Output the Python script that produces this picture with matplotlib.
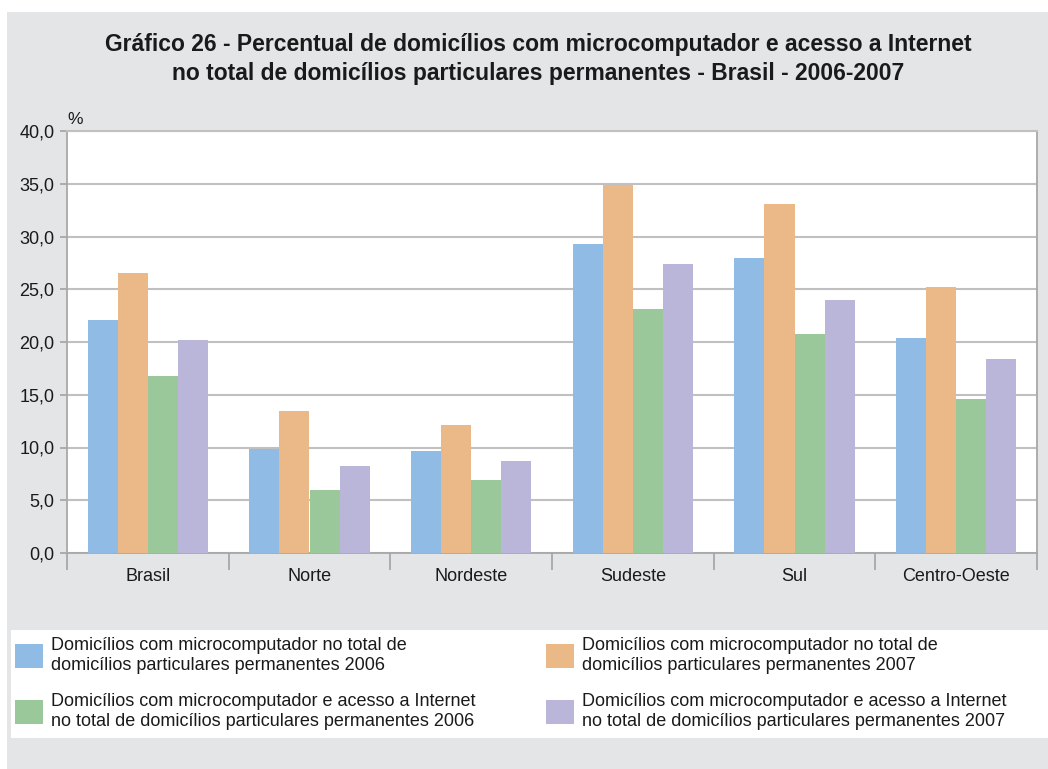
import numpy as np
import matplotlib.pyplot as plt
from matplotlib.patches import Rectangle
from matplotlib.ticker import FuncFormatter, FixedLocator

plt.rcParams['font.family'] = ['Liberation Sans', 'DejaVu Sans']

regioes = ['Brasil', 'Norte', 'Nordeste', 'Sudeste', 'Sul', 'Centro-Oeste']
micro_2006 = [22.1, 9.9, 9.7, 29.3, 28.0, 20.4]
micro_2007 = [26.5, 13.5, 12.1, 34.9, 33.1, 25.2]
internet_2006 = [16.8, 6.0, 6.9, 23.1, 20.8, 14.6]
internet_2007 = [20.2, 8.2, 8.7, 27.4, 24.0, 18.4]

rotulos = [
    'Domicílios com microcomputador no total de\ndomicílios particulares permanentes 2006',
    'Domicílios com microcomputador e acesso a Internet\nno total de domicílios particulares permanentes 2006',
    'Domicílios com microcomputador no total de\ndomicílios particulares permanentes 2007',
    'Domicílios com microcomputador e acesso a Internet\nno total de domicílios particulares permanentes 2007',
]
cores = ['#8fbbe4', '#ebb987', '#9ac89a', '#b9b6d9']
series = [micro_2006, micro_2007, internet_2006, internet_2007]

fig = plt.figure(figsize=(10.48, 7.69), dpi=100, facecolor='white')
# fundo cinza
fig.patches.append(Rectangle((7 / 1048, 0), 1, 1 - 12 / 769, transform=fig.transFigure,
                             facecolor='#e4e5e6', edgecolor='none', zorder=-10))
# caixa branca da legenda
fig.patches.append(Rectangle((11 / 1048, 1 - 738 / 769), 1, (738 - 630) / 769,
                             transform=fig.transFigure, facecolor='white',
                             edgecolor='none', zorder=-5))

ax = fig.add_axes([67 / 1048, 1 - 553 / 769, (1037 - 67) / 1048, (553 - 131) / 769])
ax.set_facecolor('white')

x = np.arange(len(regioes))
w = 0.186
barras = []
for i, (vals, cor) in enumerate(zip(series, cores)):
    b = ax.bar(x + (i - 1.5) * w, vals, w, color=cor, zorder=3)
    barras.append(b)

ax.set_xlim(-0.5, len(regioes) - 0.5)
ax.set_ylim(0, 40)
ax.set_yticks(np.arange(0, 41, 5))
ax.yaxis.set_major_formatter(FuncFormatter(lambda v, p: f'{v:.1f}'.replace('.', ',')))
ax.grid(axis='y', color='#c0c0c0', linewidth=1.5, zorder=1)

ax.set_xticks(x)
ax.set_xticklabels(regioes)
ax.xaxis.set_minor_locator(FixedLocator(np.arange(-0.5, len(regioes), 1)))
ax.tick_params(axis='x', which='major', length=0, pad=11, labelsize=13, colors='#1a1a1a')
ax.tick_params(axis='x', which='minor', length=12, width=1.3, color='#a8a8a8')
ax.tick_params(axis='y', length=5, width=1.3, color='#a8a8a8', pad=4,
               labelsize=13, labelcolor='#1a1a1a')

for lado in ['left', 'bottom', 'right']:
    ax.spines[lado].set_color('#a8a8a8')
    ax.spines[lado].set_linewidth(1.3)
ax.spines['top'].set_color('#c0c0c0')
ax.spines['top'].set_linewidth(1.5)

ax.text(0, 1.01, '%', transform=ax.transAxes, fontsize=12.5, color='#1a1a1a',
        ha='left', va='bottom')

fig.text(538 / 1048, 1 - 59 / 769,
         'Gráfico 26 - Percentual de domicílios com microcomputador e acesso a Internet\n'
         'no total de domicílios particulares permanentes - Brasil - 2006-2007',
         ha='center', va='center', fontsize=16.5, fontweight='bold', color='#1a1a1a',
         linespacing=1.28)

# ordem: coluna 1 (2006, internet 2006), coluna 2 (2007, internet 2007)
ordem = [0, 2, 1, 3]
leg = fig.legend([barras[i] for i in ordem], rotulos, ncol=2,
                 loc='upper left', bbox_to_anchor=(11 / 1048, 1 - 633 / 769),
                 frameon=False, fontsize=13, handlelength=1.55, handleheight=1.65,
                 handletextpad=0.45, columnspacing=3.9, labelspacing=1.05,
                 borderaxespad=0, borderpad=0.2)
for t in leg.get_texts():
    t.set_linespacing(1.25)
    t.set_color('#1a1a1a')

fig.savefig('out.png', dpi=100, facecolor=fig.get_facecolor())
